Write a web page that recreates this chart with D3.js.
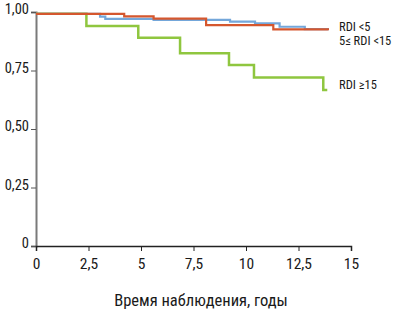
<!DOCTYPE html>
<html>
<head>
<meta charset="utf-8">
<script src="https://cdn.jsdelivr.net/npm/d3@7"></script>
<style>
    body { margin: 0; background: #fff; }
    text { font-family: "Liberation Sans Narrow", "Arial Narrow", "Roboto Condensed", sans-serif; font-stretch: condensed; fill: #1a1a1a; }
</style>
</head>
<body>
<div id="chart"></div>
<script>
// survival curves
const lowTimes = [0, 3.05, 3.3, 5.6, 9.24, 10.43, 11.6, 12.8, 13.9];
const lowSurv = [0.992, 0.98, 0.971, 0.966, 0.959, 0.951, 0.937, 0.927, 0.922];

const midTimes = [0, 4.2, 5.6, 8.1, 11.3, 13.9];
const midSurv = [0.992, 0.981, 0.972, 0.944, 0.926, 0.922];

const highTimes = [0, 2.4, 4.87, 6.86, 9.19, 10.38, 13.68, 13.87];
const highSurv = [0.992, 0.94, 0.89, 0.824, 0.774, 0.72, 0.667, 0.667];

const xTicks = [0, 2.5, 5, 7.5, 10, 12.5, 15];
const yTicks = [0, 0.25, 0.5, 0.75, 1];
const legendLabels = ["RDI <5", "5\u2264 RDI <15", "RDI \u226515"];

const COLORS = { low: "#74a7da", mid: "#d5572e", high: "#8fc63f" };
const comma = v => d3.format(".2f")(v).replace(".", ",");

const width = 393, height = 309;
const margin = { left: 36, top: 12, right: 42, bottom: 63 };

const svg = d3.select("#chart")
    .append("svg")
    .attr("width", width)
    .attr("height", height);

const x = d3.scaleLinear()
    .domain([0, 15])
    .range([margin.left, width - margin.right]);

const y = d3.scaleLinear()
    .domain([0, 1])
    .range([height - margin.bottom, margin.top]);

// y axis (grey)
const yAxis = svg.append("g")
    .attr("transform", `translate(${margin.left},0)`)
    .call(d3.axisLeft(y)
        .tickValues(yTicks)
        .tickFormat(d => d === 0 ? "0" : comma(d))
        .tickSize(5)
        .tickPadding(2));
yAxis.select("path.domain").attr("stroke", "#7a7a7a").attr("stroke-width", 2);
yAxis.selectAll(".tick line").attr("stroke", "#555");
yAxis.selectAll(".tick text").attr("font-size", 14.5).attr("dy", "0.12em");

// x axis (black)
const xAxis = svg.append("g")
    .attr("transform", `translate(0,${y(0)})`)
    .call(d3.axisBottom(x)
        .tickValues(xTicks)
        .tickFormat(d => String(d).replace(".", ","))
        .tickSize(5)
        .tickPadding(7));
xAxis.select("path.domain").attr("stroke", "#222").attr("stroke-width", 1.5);
xAxis.selectAll(".tick line").attr("stroke", "#222");
xAxis.selectAll(".tick text").attr("font-size", 15.5);

svg.append("text")
    .attr("x", 201)
    .attr("y", 306)
    .attr("text-anchor", "middle")
    .attr("font-size", 16.5)
    .text("Время наблюдения, годы");

// step curves
const line = d3.line()
    .x(d => x(d[0]))
    .y(d => y(d[1]))
    .curve(d3.curveStepAfter);

const series = [
    { key: "high", times: highTimes, surv: highSurv, w: 2.5 },
    { key: "low", times: lowTimes, surv: lowSurv, w: 2.2 },
    { key: "mid", times: midTimes, surv: midSurv, w: 2.2 }
];

svg.selectAll("path.curve")
    .data(series)
    .enter()
    .append("path")
    .attr("class", "curve")
    .attr("fill", "none")
    .attr("stroke", d => COLORS[d.key])
    .attr("stroke-width", d => d.w)
    .attr("d", d => line(d.times.map((t, i) => [t, d.surv[i]])));

// labels at the line ends
const legendY = [31, 45, 89];
svg.selectAll("text.legend")
    .data(legendLabels)
    .enter()
    .append("text")
    .attr("class", "legend")
    .attr("x", 339)
    .attr("y", (d, i) => legendY[i])
    .attr("font-size", 12.5)
    .text(d => d);
</script>
</body>
</html>
